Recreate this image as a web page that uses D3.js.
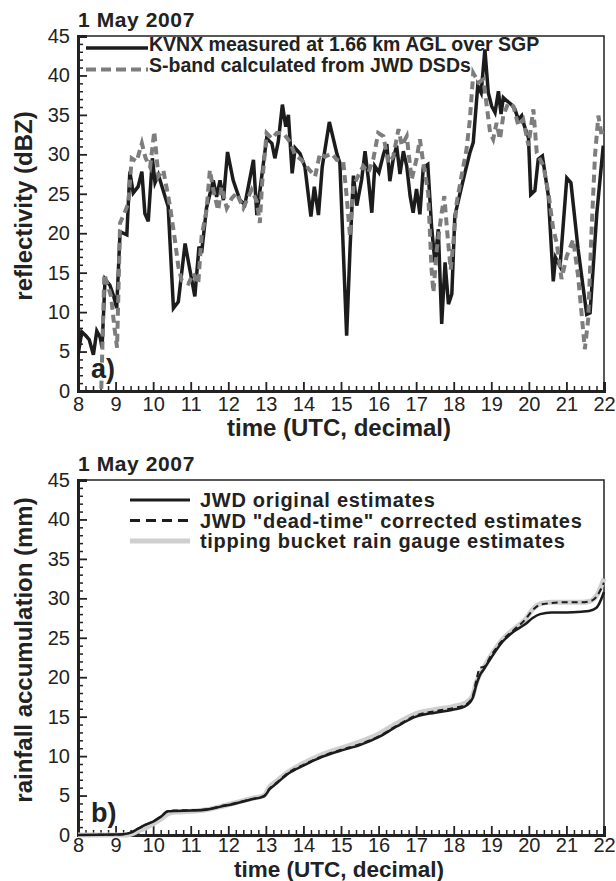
<!DOCTYPE html>
<html>
<head>
<meta charset="utf-8">
<script src="https://cdn.jsdelivr.net/npm/d3@7"></script>
<style>
  html, body { margin: 0; padding: 0; background: #fff; }
  svg { display: block; font-family: "Liberation Sans", Arial, Helvetica, sans-serif; }
</style>
</head>
<body>
<svg id="chart" width="616" height="881"></svg>
<script>
// ---------------- DATA ----------------
const dateLabel = "1 May 2007";
const xTickValues = [8, 9, 10, 11, 12, 13, 14, 15, 16, 17, 18, 19, 20, 21, 22];
const yTickValues = [0, 5, 10, 15, 20, 25, 30, 35, 40, 45];

// Panel a: KVNX measured reflectivity (dBZ)
const kvnxTime = [8.0, 8.1, 8.21, 8.3, 8.41, 8.5, 8.59, 8.64, 8.72, 8.85, 8.95, 9.03, 9.12, 9.3, 9.38, 9.47, 9.6, 9.7, 9.78, 9.87, 9.98, 10.05, 10.14, 10.32, 10.4, 10.54, 10.67, 10.85, 10.98, 11.11, 11.22, 11.29, 11.42, 11.6, 11.69, 11.78, 11.87, 11.98, 12.13, 12.31, 12.44, 12.67, 12.76, 12.89, 13.02, 13.16, 13.24, 13.33, 13.44, 13.53, 13.6, 13.7, 13.78, 13.91, 14.04, 14.2, 14.29, 14.4, 14.5, 14.69, 14.89, 14.97, 15.15, 15.24, 15.33, 15.42, 15.55, 15.64, 15.73, 15.82, 15.9, 16.01, 16.13, 16.22, 16.3, 16.39, 16.48, 16.57, 16.66, 16.75, 16.84, 16.92, 17.01, 17.1, 17.19, 17.31, 17.41, 17.5, 17.59, 17.68, 17.77, 17.86, 17.95, 18.03, 18.17, 18.3, 18.43, 18.52, 18.64, 18.73, 18.83, 18.92, 19.01, 19.1, 19.19, 19.26, 19.32, 19.41, 19.54, 19.63, 19.72, 19.81, 19.88, 19.99, 20.05, 20.16, 20.25, 20.36, 20.52, 20.65, 20.71, 20.83, 21.01, 21.12, 21.31, 21.54, 21.63, 21.81, 21.98];
const kvnxDbz = [4.5, 7.5, 7.0, 6.5, 4.6, 7.6, 6.8, 5.5, 14.2, 13.4, 12.0, 10.5, 20.2, 19.8, 27.8, 25.1, 25.9, 27.8, 22.5, 21.5, 29.5, 26.4, 27.4, 24.6, 23.4, 10.5, 11.3, 18.7, 15.3, 12.0, 18.3, 17.5, 23.2, 26.7, 24.6, 26.7, 24.2, 30.3, 26.7, 24.2, 23.6, 29.3, 22.3, 27.2, 32.0, 31.4, 29.5, 31.6, 36.3, 33.5, 35.0, 27.6, 30.8, 30.1, 28.4, 22.1, 25.9, 22.3, 28.4, 34.1, 30.1, 28.9, 7.0, 18.0, 27.3, 23.5, 26.8, 30.4, 26.8, 22.6, 28.5, 27.7, 30.0, 31.3, 26.6, 29.4, 31.1, 27.5, 30.4, 28.5, 24.7, 22.6, 25.6, 22.4, 28.3, 28.7, 20.9, 16.3, 20.5, 8.5, 16.3, 11.0, 12.3, 22.2, 25.1, 27.7, 30.2, 31.5, 38.7, 37.8, 43.3, 37.8, 36.1, 35.3, 38.0, 35.1, 37.2, 36.8, 36.3, 35.7, 34.4, 34.9, 33.6, 32.1, 24.9, 25.4, 29.4, 29.8, 24.7, 13.9, 16.9, 15.8, 27.0, 26.4, 18.0, 9.7, 9.9, 22.6, 31.1];

// Panel a: S-band reflectivity calculated from JWD DSDs (dBZ)
const jwdTime = [8.62, 8.7, 8.88, 8.97, 9.04, 9.12, 9.25, 9.34, 9.43, 9.56, 9.7, 9.8, 9.92, 10.03, 10.14, 10.27, 10.45, 10.58, 10.67, 10.76, 10.94, 11.07, 11.2, 11.29, 11.42, 11.51, 11.6, 11.73, 11.82, 11.96, 12.09, 12.22, 12.4, 12.62, 12.76, 12.84, 12.9, 13.02, 13.16, 13.29, 13.46, 13.64, 13.78, 13.95, 14.13, 14.31, 14.44, 14.57, 14.75, 14.89, 15.06, 15.15, 15.24, 15.33, 15.46, 15.59, 15.73, 15.86, 15.99, 16.13, 16.26, 16.39, 16.53, 16.62, 16.75, 16.88, 17.01, 17.1, 17.19, 17.32, 17.41, 17.46, 17.55, 17.68, 17.75, 17.83, 17.92, 17.99, 18.08, 18.21, 18.34, 18.43, 18.52, 18.66, 18.79, 18.88, 18.97, 19.05, 19.14, 19.23, 19.32, 19.45, 19.59, 19.72, 19.85, 19.99, 20.12, 20.21, 20.39, 20.52, 20.65, 20.74, 20.87, 21.01, 21.18, 21.31, 21.45, 21.49, 21.58, 21.67, 21.76, 21.85, 21.94, 22.0];
const jwdDbz = [0.3, 14.8, 12.0, 8.0, 5.5, 21.3, 22.7, 23.8, 29.5, 29.1, 31.4, 29.5, 28.4, 32.9, 27.2, 28.0, 23.4, 19.1, 15.8, 14.0, 13.6, 14.9, 13.6, 19.6, 22.9, 28.0, 25.5, 22.9, 25.9, 23.2, 24.4, 25.1, 23.2, 25.5, 24.0, 21.3, 26.3, 32.7, 32.0, 32.7, 32.7, 31.6, 29.9, 29.3, 28.2, 27.2, 30.1, 29.7, 30.1, 29.3, 29.1, 24.7, 19.6, 26.0, 27.3, 28.5, 27.7, 29.4, 32.7, 32.3, 28.9, 29.7, 33.2, 31.1, 32.3, 26.8, 29.4, 31.9, 28.9, 25.1, 15.4, 12.5, 18.0, 22.6, 24.7, 20.0, 15.4, 18.8, 23.9, 27.3, 30.6, 34.4, 40.3, 39.1, 39.5, 36.1, 32.7, 31.9, 34.0, 31.9, 34.9, 36.5, 36.1, 33.6, 34.4, 31.1, 35.7, 30.2, 28.5, 25.1, 20.5, 18.8, 14.2, 17.1, 19.2, 14.6, 7.4, 5.3, 9.1, 20.5, 29.8, 34.9, 32.3, 33.0];

// Panel b: rainfall accumulation (mm)
const accTime = [8.0, 9.0, 9.2, 9.4, 9.6, 9.8, 10.0, 10.2, 10.4, 10.6, 11.0, 11.4, 11.8, 12.2, 12.6, 12.95, 13.1, 13.3, 13.6, 14.0, 14.5, 15.0, 15.5, 16.0, 16.5, 17.0, 17.5, 18.0, 18.3, 18.5, 18.6, 18.7, 18.8, 19.0, 19.3, 19.6, 19.9, 20.1, 20.3, 20.6, 21.0, 21.4, 21.6, 21.8, 22.0];
const accJwdOriginal = [0, 0.05, 0.1, 0.3, 0.8, 1.3, 1.7, 2.3, 3.0, 3.05, 3.1, 3.2, 3.6, 4.0, 4.5, 4.9, 5.8, 6.6, 7.8, 8.8, 9.9, 10.7, 11.4, 12.4, 13.8, 15.0, 15.5, 15.9, 16.3, 17.3, 19.0, 20.3, 21.0, 22.5, 24.5, 25.8, 26.7, 27.5, 28.0, 28.2, 28.2, 28.3, 28.4, 28.8, 30.8];
const accJwdCorrected = [0, 0.05, 0.1, 0.3, 0.8, 1.3, 1.75, 2.35, 3.05, 3.1, 3.15, 3.25, 3.65, 4.05, 4.55, 4.95, 5.9, 6.7, 7.9, 8.9, 10.0, 10.8, 11.5, 12.5, 13.9, 15.15, 15.7, 16.1, 16.5, 17.5, 19.6, 21.2, 21.3, 22.8, 24.7, 26.0, 27.3, 28.5, 29.2, 29.4, 29.5, 29.5, 29.6, 30.2, 32.0];
const accGauge = [0, 0, 0, 0.1, 0.5, 0.9, 1.4, 2.0, 2.7, 2.9, 3.0, 3.2, 3.6, 4.1, 4.6, 5.0, 6.1, 6.9, 8.0, 9.1, 10.2, 11.0, 11.8, 12.8, 14.2, 15.4, 15.9, 16.3, 16.7, 17.6, 19.3, 20.4, 21.2, 22.8, 24.8, 26.1, 27.3, 28.6, 29.3, 29.5, 29.5, 29.5, 29.6, 30.3, 32.5];

// ---------------- DRAW ----------------
const svg = d3.select("#chart");
svg.append("rect").attr("width", 616).attr("height", 881).attr("fill", "#fff");

const left = 78, right = 604;
const panels = [
  { top: 36, bottom: 391, ylabel: "reflectivity (dBZ)", ylabelY: 206, tag: "a)", xlabOff: 45, xlabSize: 24, tickPad: 6 },
  { top: 480, bottom: 835, ylabel: "rainfall accumulation (mm)", ylabelY: 650, tag: "b)", xlabOff: 42, xlabSize: 22.5, tickPad: 3 }
];

function drawPanel(p) {
  const x = d3.scaleLinear().domain([8, 22]).range([left, right]);
  const y = d3.scaleLinear().domain([0, 45]).range([p.bottom, p.top]);
  const g = svg.append("g");

  g.append("rect").attr("x", left).attr("y", p.top)
    .attr("width", right - left).attr("height", p.bottom - p.top)
    .attr("fill", "none").attr("stroke", "#222").attr("stroke-width", 1.5);

  const xMinor = d3.range(8, 22.001, 0.2).filter(v => Math.abs(v - Math.round(v)) > 1e-6);
  const yMinor = d3.range(0, 45.001, 1).filter(v => v % 5 !== 0);
  g.append("g").attr("transform", `translate(0,${p.bottom})`)
    .call(d3.axisBottom(x).tickValues(xMinor).tickSize(-5).tickFormat(""))
    .call(a => a.select(".domain").remove())
    .call(a => a.selectAll("line").attr("stroke", "#222").attr("stroke-width", 1.5));
  g.append("g").attr("transform", `translate(${left},0)`)
    .call(d3.axisLeft(y).tickValues(yMinor).tickSize(-5).tickFormat(""))
    .call(a => a.select(".domain").remove())
    .call(a => a.selectAll("line").attr("stroke", "#222").attr("stroke-width", 1.5));

  const xa = g.append("g").attr("transform", `translate(0,${p.bottom})`)
    .call(d3.axisBottom(x).tickValues(xTickValues).tickSize(-9).tickPadding(p.tickPad).tickFormat(d3.format("d")));
  xa.select(".domain").attr("stroke", "#222").attr("stroke-width", 3);
  xa.selectAll("line").attr("stroke", "#222").attr("stroke-width", 1.8);
  xa.selectAll("text").attr("font-size", 20).attr("fill", "#222")
    .attr("font-family", "Liberation Sans, Arial, sans-serif").attr("dy", "0.7em");

  const ya = g.append("g").attr("transform", `translate(${left},0)`)
    .call(d3.axisLeft(y).tickValues(yTickValues).tickSize(-9).tickPadding(8).tickFormat(d3.format("d")));
  ya.select(".domain").attr("stroke", "#222").attr("stroke-width", 3);
  ya.selectAll("line").attr("stroke", "#222").attr("stroke-width", 1.8);
  ya.selectAll("text").attr("font-size", 20).attr("fill", "#222")
    .attr("font-family", "Liberation Sans, Arial, sans-serif");

  svg.append("text").attr("x", left).attr("y", p.top - 9)
    .attr("font-size", 21).attr("font-weight", "bold").attr("fill", "#222")
    .attr("letter-spacing", 0.6)
    .text(dateLabel);
  svg.append("text").attr("x", 339).attr("y", p.bottom + p.xlabOff)
    .attr("text-anchor", "middle").attr("font-size", p.xlabSize).attr("font-weight", "bold").attr("fill", "#222")
    .text("time (UTC, decimal)");
  svg.append("text").attr("transform", `translate(32,${p.ylabelY}) rotate(-90)`)
    .attr("text-anchor", "middle").attr("font-size", 24).attr("font-weight", "bold").attr("fill", "#222")
    .text(p.ylabel);
  svg.append("text").attr("x", 91).attr("y", p.bottom - 13)
    .attr("font-size", 27).attr("font-weight", "bold").attr("fill", "#222")
    .text(p.tag);

  return { x, y, g };
}

// ---- Panel a ----
{
  const { x, y, g } = drawPanel(panels[0]);
  g.append("clipPath").attr("id", "clipA").append("rect")
    .attr("x", left).attr("y", panels[0].top).attr("width", right - left).attr("height", panels[0].bottom - panels[0].top);
  const line = d3.line().x(d => x(d[0])).y(d => y(d[1]));
  g.append("path").datum(kvnxTime.map((t, i) => [t, kvnxDbz[i]]))
    .attr("clip-path", "url(#clipA)")
    .attr("d", line).attr("fill", "none").attr("stroke", "#1c1c1c")
    .attr("stroke-width", 3.5).attr("stroke-linejoin", "miter");
  g.append("path").datum(jwdTime.map((t, i) => [t, jwdDbz[i]]))
    .attr("clip-path", "url(#clipA)")
    .attr("d", line).attr("fill", "none").attr("stroke", "#7d7d7d")
    .attr("stroke-width", 4).attr("stroke-dasharray", "8,5");

  const lg = svg.append("g");
  lg.append("line").attr("x1", 86).attr("x2", 148).attr("y1", 48).attr("y2", 48)
    .attr("stroke", "#1c1c1c").attr("stroke-width", 3.5);
  lg.append("text").attr("x", 149).attr("y", 51).attr("font-size", 19.5).attr("font-weight", "bold")
    .attr("fill", "#222").text("KVNX measured at 1.66 km AGL over SGP");
  lg.append("line").attr("x1", 86).attr("x2", 148).attr("y1", 69.5).attr("y2", 69.5)
    .attr("stroke", "#7d7d7d").attr("stroke-width", 4).attr("stroke-dasharray", "10,5");
  lg.append("text").attr("x", 149).attr("y", 71.5).attr("font-size", 19.5).attr("font-weight", "bold")
    .attr("fill", "#222").text("S-band calculated from JWD DSDs");
}

// ---- Panel b ----
{
  const { x, y, g } = drawPanel(panels[1]);
  const line = d3.line().x(d => x(d[0])).y(d => y(d[1])).curve(d3.curveMonotoneX);
  g.append("path").datum(accTime.map((t, i) => [t, accGauge[i]]))
    .attr("d", line).attr("fill", "none").attr("stroke", "#cfcfcf").attr("stroke-width", 5);
  g.append("path").datum(accTime.map((t, i) => [t, accJwdOriginal[i]]))
    .attr("d", line).attr("fill", "none").attr("stroke", "#1c1c1c").attr("stroke-width", 2.5);
  g.append("path").datum(accTime.map((t, i) => [t, accJwdCorrected[i]]))
    .attr("d", line).attr("fill", "none").attr("stroke", "#1c1c1c").attr("stroke-width", 2)
    .attr("stroke-dasharray", "6,4");

  const lg = svg.append("g");
  const entries = [
    { label: "JWD original estimates", stroke: "#1c1c1c", w: 3, dash: null },
    { label: "JWD \"dead-time\" corrected estimates", stroke: "#1c1c1c", w: 3, dash: "10,6" },
    { label: "tipping bucket rain gauge estimates", stroke: "#cfcfcf", w: 5, dash: null }
  ];
  entries.forEach((e, i) => {
    const yy = 500 + i * 20.5;
    const l = lg.append("line").attr("x1", 130).attr("x2", 190).attr("y1", yy).attr("y2", yy)
      .attr("stroke", e.stroke).attr("stroke-width", e.w);
    if (e.dash) l.attr("stroke-dasharray", e.dash);
    lg.append("text").attr("x", 200).attr("y", yy + 7).attr("font-size", 20).attr("font-weight", "bold")
      .attr("letter-spacing", 0.7)
      .attr("fill", "#222").text(e.label);
  });
}
</script>
</body>
</html>
